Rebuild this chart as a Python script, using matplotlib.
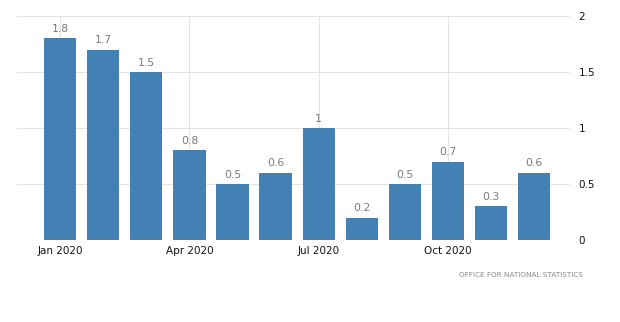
import matplotlib
matplotlib.use("Agg")
import matplotlib.pyplot as plt

months = ["Jan 2020", "Feb 2020", "Mar 2020", "Apr 2020", "May 2020", "Jun 2020",
          "Jul 2020", "Aug 2020", "Sep 2020", "Oct 2020", "Nov 2020", "Dec 2020"]
values = [1.8, 1.7, 1.5, 0.8, 0.5, 0.6, 1.0, 0.2, 0.5, 0.7, 0.3, 0.6]
value_labels = ["1.8", "1.7", "1.5", "0.8", "0.5", "0.6", "1", "0.2", "0.5", "0.7", "0.3", "0.6"]
x_ticks = [0, 3, 6, 9]
x_tick_labels = ["Jan 2020", "Apr 2020", "Jul 2020", "Oct 2020"]
y_ticks = [0, 0.5, 1, 1.5, 2]
y_tick_labels = ["0", "0.5", "1", "1.5", "2"]

BAR_COLOR = "#4381b5"
GRID_COLOR = "#e4e4e4"

fig = plt.figure(figsize=(6.2, 3.22), dpi=100)
ax = fig.add_axes([17 / 620, 82 / 322, 553 / 620, 224 / 322])

positions = list(range(len(months)))
ax.bar(positions, values, width=0.75, color=BAR_COLOR, zorder=3)

for pos, val, lab in zip(positions, values, value_labels):
    ax.text(pos, val + 0.04, lab, ha="center", va="bottom",
            fontsize=7.8, color="#7a7a7a", zorder=4)

ax.set_xlim(-1.0, 11.83)
ax.set_ylim(0, 2)

ax.set_xticks(x_ticks)
ax.set_xticklabels(x_tick_labels, fontsize=7.5, color="#111111")
ax.set_yticks(y_ticks)
ax.set_yticklabels(y_tick_labels, fontsize=7.5, color="#111111")
ax.yaxis.tick_right()
ax.tick_params(axis="both", length=0)
ax.tick_params(axis="x", pad=4)
ax.tick_params(axis="y", pad=6)

ax.grid(True, color=GRID_COLOR, linewidth=0.8, zorder=0)
ax.set_axisbelow(True)
for side in ax.spines.values():
    side.set_visible(False)

fig.text(583 / 620, 1 - 275 / 322, "OFFICE FOR NATIONAL STATISTICS",
         ha="right", va="center", fontsize=5.2, color="#8a8a8a")

fig.savefig("out.png", dpi=100, facecolor="white")
